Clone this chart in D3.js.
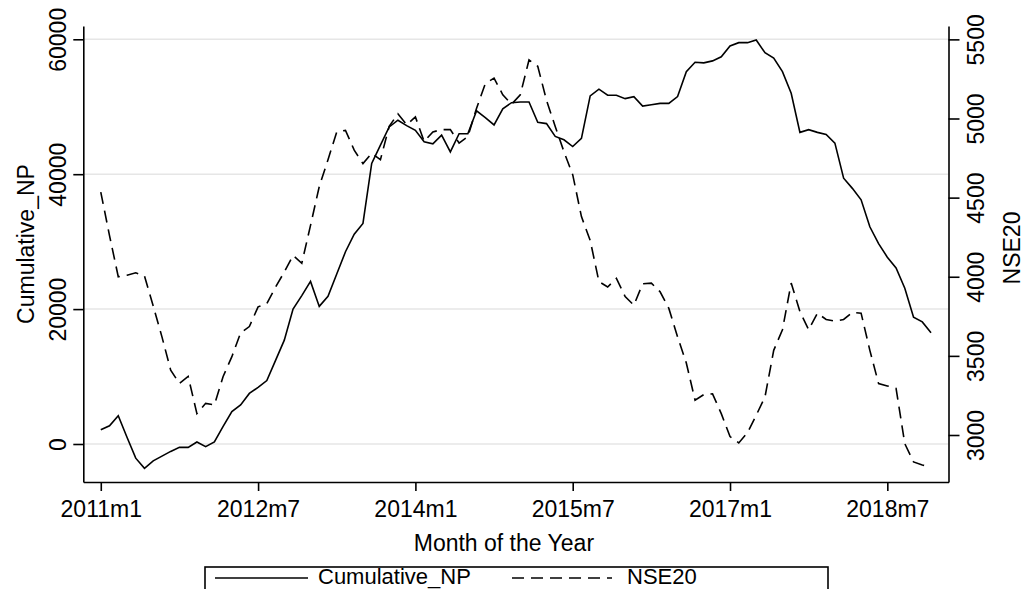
<!DOCTYPE html>
<html>
<head>
<meta charset="utf-8">
<script src="https://cdn.jsdelivr.net/npm/d3@7"></script>
<style>
  body { margin: 0; background: #fff; }
  text { font-family: "Liberation Sans", Arial, sans-serif; fill: #000; }
</style>
</head>
<body>
<script>
// monthly data, 2011m1 .. 2018m12 (month index 0..95)
const cumulativeNP = [
  2100, 2700, 4200, 1000, -2100, -3600, -2500, -1800, -1100, -500, -500, 300,
  -400, 300, 2600, 4800, 5800, 7500, 8400, 9400, 12400, 15400, 20000, 22000,
  24100, 20400, 21900, 25200, 28500, 31100, 32700, 41600, 44300, 47000, 48000, 47200,
  46500, 44800, 44500, 45800, 43300, 46000, 46000, 49400, 48400, 47300, 49700, 50600,
  50700, 50700, 47700, 47500, 45600, 45100, 44100, 45300, 51600, 52600, 51700, 51700,
  51200, 51500, 50100, 50300, 50500, 50500, 51500, 55200, 56600, 56500, 56800, 57400,
  59000, 59500, 59500, 59900, 58000, 57200, 55200, 52000, 46200, 46600, 46200, 45900,
  44600, 39400, 37900, 36200, 32200, 29700, 27700, 26100, 23100, 18800, 18100, 16500
];
const nse20 = [
  4535, 4260, 4000, 4010, 4025, 4005, 3815, 3620, 3410, 3325, 3370, 3135,
  3200, 3190, 3370, 3495, 3645, 3685, 3810, 3830, 3935, 4030, 4135, 4085,
  4325, 4570, 4740, 4915, 4925, 4800, 4715, 4780, 4740, 4950, 5030, 4960,
  5010, 4855, 4915, 4930, 4930, 4845, 4885, 5065, 5220, 5255, 5150, 5090,
  5150, 5370, 5330, 5115, 4950, 4790, 4645, 4380, 4230, 3970, 3935, 3990,
  3875, 3820, 3955, 3960, 3905, 3800, 3620, 3455, 3220, 3255, 3260, 3135,
  2990, 2950, 3015, 3125, 3240, 3535, 3665, 3960, 3780, 3665, 3770, 3730,
  3720, 3730, 3775, 3770, 3535, 3325, 3310, 3295, 2945, 2830, 2810, 2800
];
const months = cumulativeNP.map((d, i) => i);

const xTicks = [0, 18, 36, 54, 72, 90];
const xTickLabels = ["2011m1", "2012m7", "2014m1", "2015m7", "2017m1", "2018m7"];
const leftTicks = [0, 20000, 40000, 60000];
const rightTicks = [3000, 3500, 4000, 4500, 5000, 5500];
const seriesNames = ["Cumulative_NP", "NSE20"];

const W = 1029, H = 589;
const plotLeft = 83.3, plotRight = 948.5, plotTop = 26, plotBottom = 482;

const svg = d3.select("body").append("svg")
    .attr("width", W)
    .attr("height", H);

const x = d3.scaleLinear().domain([-2, 97]).range([plotLeft, plotRight]);
const yL = d3.scaleLinear().domain([-5634, 61970]).range([plotBottom, plotTop]);
const yR = d3.scaleLinear().domain([2703, 5584.5]).range([plotBottom, plotTop]);

// grid lines from the left axis
svg.selectAll("line.grid")
    .data(leftTicks)
    .enter()
    .append("line")
    .attr("class", "grid")
    .attr("x1", plotLeft)
    .attr("x2", plotRight)
    .attr("y1", d => yL(d))
    .attr("y2", d => yL(d))
    .attr("stroke", "#e6e6e6")
    .attr("stroke-width", 1.5);

const fs = 23;

// left axis
const gL = svg.append("g")
    .attr("transform", `translate(${plotLeft},0)`)
    .call(d3.axisLeft(yL).tickValues(leftTicks).tickSize(10).tickSizeOuter(0).tickFormat(d3.format("d")));
gL.selectAll("text")
    .attr("x", null).attr("dy", null)
    .attr("text-anchor", "middle")
    .attr("font-size", fs)
    .attr("transform", "translate(-17,0) rotate(-90)");

// right axis
const gR = svg.append("g")
    .attr("transform", `translate(${plotRight},0)`)
    .call(d3.axisRight(yR).tickValues(rightTicks).tickSize(11).tickSizeOuter(0).tickFormat(d3.format("d")));
gR.selectAll("text")
    .attr("x", null).attr("dy", null)
    .attr("text-anchor", "middle")
    .attr("font-size", fs)
    .attr("transform", "translate(35,0) rotate(-90)");

// bottom axis
const gX = svg.append("g")
    .attr("transform", `translate(0,${plotBottom})`)
    .call(d3.axisBottom(x).tickValues(xTicks).tickSize(9).tickSizeOuter(0)
        .tickFormat((d, i) => xTickLabels[i]));
gX.selectAll("text")
    .attr("y", 35).attr("dy", null)
    .attr("font-size", fs);

svg.selectAll(".domain, .tick line")
    .attr("stroke", "#000")
    .attr("stroke-width", 1.6);

// axis titles
svg.append("text")
    .attr("text-anchor", "middle")
    .attr("font-size", fs)
    .attr("transform", `translate(34,${(plotTop + plotBottom) / 2 - 10}) rotate(-90)`)
    .text(seriesNames[0]);

svg.append("text")
    .attr("text-anchor", "middle")
    .attr("font-size", fs)
    .attr("transform", `translate(1020,${(plotTop + plotBottom) / 2 - 6}) rotate(-90)`)
    .text(seriesNames[1]);

svg.append("text")
    .attr("text-anchor", "middle")
    .attr("font-size", fs)
    .attr("x", (plotLeft + plotRight) / 2 - 12)
    .attr("y", 551)
    .text("Month of the Year");

// lines
const lineL = d3.line().x(d => x(d)).y(d => yL(cumulativeNP[d]));
const lineR = d3.line().x(d => x(d)).y(d => yR(nse20[d]));

svg.append("path")
    .datum(months)
    .attr("d", lineL)
    .attr("fill", "none")
    .attr("stroke", "#000")
    .attr("stroke-width", 1.6);

svg.append("path")
    .datum(months)
    .attr("d", lineR)
    .attr("fill", "none")
    .attr("stroke", "#000")
    .attr("stroke-width", 1.6)
    .attr("stroke-dasharray", "12,7");

// legend
const leg = svg.append("g");
leg.append("rect")
    .attr("x", 205).attr("y", 567)
    .attr("width", 623).attr("height", 40)
    .attr("fill", "#fff")
    .attr("stroke", "#000")
    .attr("stroke-width", 1.6);
leg.append("line")
    .attr("x1", 215).attr("x2", 308).attr("y1", 578).attr("y2", 578)
    .attr("stroke", "#000").attr("stroke-width", 1.6);
leg.append("text")
    .attr("x", 318).attr("y", 584).attr("font-size", 22)
    .text(seriesNames[0]);
leg.append("line")
    .attr("x1", 512).attr("x2", 612).attr("y1", 578).attr("y2", 578)
    .attr("stroke", "#000").attr("stroke-width", 1.6)
    .attr("stroke-dasharray", "12,7");
leg.append("text")
    .attr("x", 627).attr("y", 584).attr("font-size", 22)
    .text(seriesNames[1]);
</script>
</body>
</html>
